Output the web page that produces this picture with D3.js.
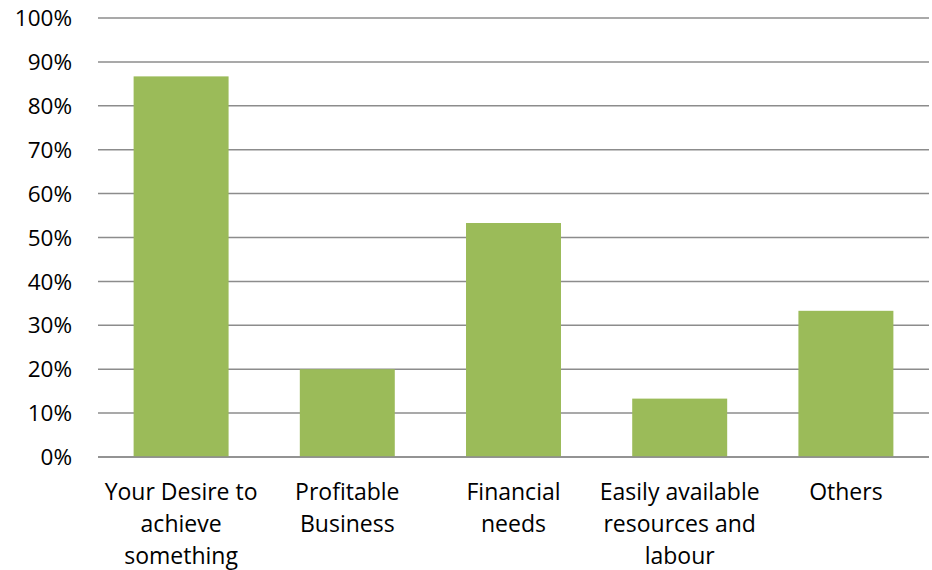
<!DOCTYPE html>
<html><head><meta charset="utf-8">
<script src="https://cdn.jsdelivr.net/npm/d3@7"></script>
<style>html,body{margin:0;padding:0;background:#fff;}</style>
</head><body>
<script>
const categories = [
  ["Your Desire to","achieve","something"],
  ["Profitable","Business"],
  ["Financial","needs"],
  ["Easily available","resources and","labour"],
  ["Others"]
];
const values = [0.867, 0.20, 0.533, 0.133, 0.333];
const tickValues = [0,0.1,0.2,0.3,0.4,0.5,0.6,0.7,0.8,0.9,1.0];

const W = 932, H = 570;
const m = {left:98, right:3, top:18, bottom:113};
const font = "'Open Sans', sans-serif";
const svg = d3.select("body").append("svg").attr("width",W).attr("height",H);

const x = d3.scaleBand().domain(d3.range(categories.length))
  .range([m.left, W-m.right]).paddingInner(0.75/1.75).paddingOuter(0.375/1.75);
const y = d3.scaleLinear().domain([0,1]).range([H-m.bottom, m.top]);

// gridlines
svg.append("g").selectAll("line").data(tickValues).join("line")
  .attr("x1", m.left).attr("x2", W-m.right)
  .attr("y1", d=>y(d)).attr("y2", d=>y(d))
  .attr("stroke","#8c8c8c").attr("stroke-width",1.5);

// y tick labels
svg.append("g").selectAll("text").data(tickValues).join("text")
  .attr("x", 72).attr("y", d=>y(d)).attr("dy","0.36em")
  .attr("text-anchor","end").attr("font-family",font).attr("font-size",22.5)
  .attr("fill","#000").text(d=>d3.format(".0%")(d));

// bars
svg.append("g").selectAll("rect").data(values).join("rect")
  .attr("x",(d,i)=>x(i)).attr("width",x.bandwidth())
  .attr("y",d=>y(d)).attr("height",d=>y(0)-y(d))
  .attr("fill","#9bbb59");

// zero line on top
svg.append("line").attr("x1",m.left).attr("x2",W-m.right)
  .attr("y1",y(0)).attr("y2",y(0)).attr("stroke","#8c8c8c").attr("stroke-width",1.5);

// category labels
const cl = svg.append("g").selectAll("text").data(categories).join("text")
  .attr("x",(d,i)=>x(i)+x.bandwidth()/2).attr("y", y(0)+43)
  .attr("text-anchor","middle").attr("font-family",font).attr("font-size",23).attr("fill","#000");
cl.selectAll("tspan").data(d=>d).join("tspan")
  .attr("x",function(){return this.parentNode.getAttribute("x");})
  .attr("dy",(d,i)=>i===0?0:32).text(d=>d);
</script>
</body></html>
